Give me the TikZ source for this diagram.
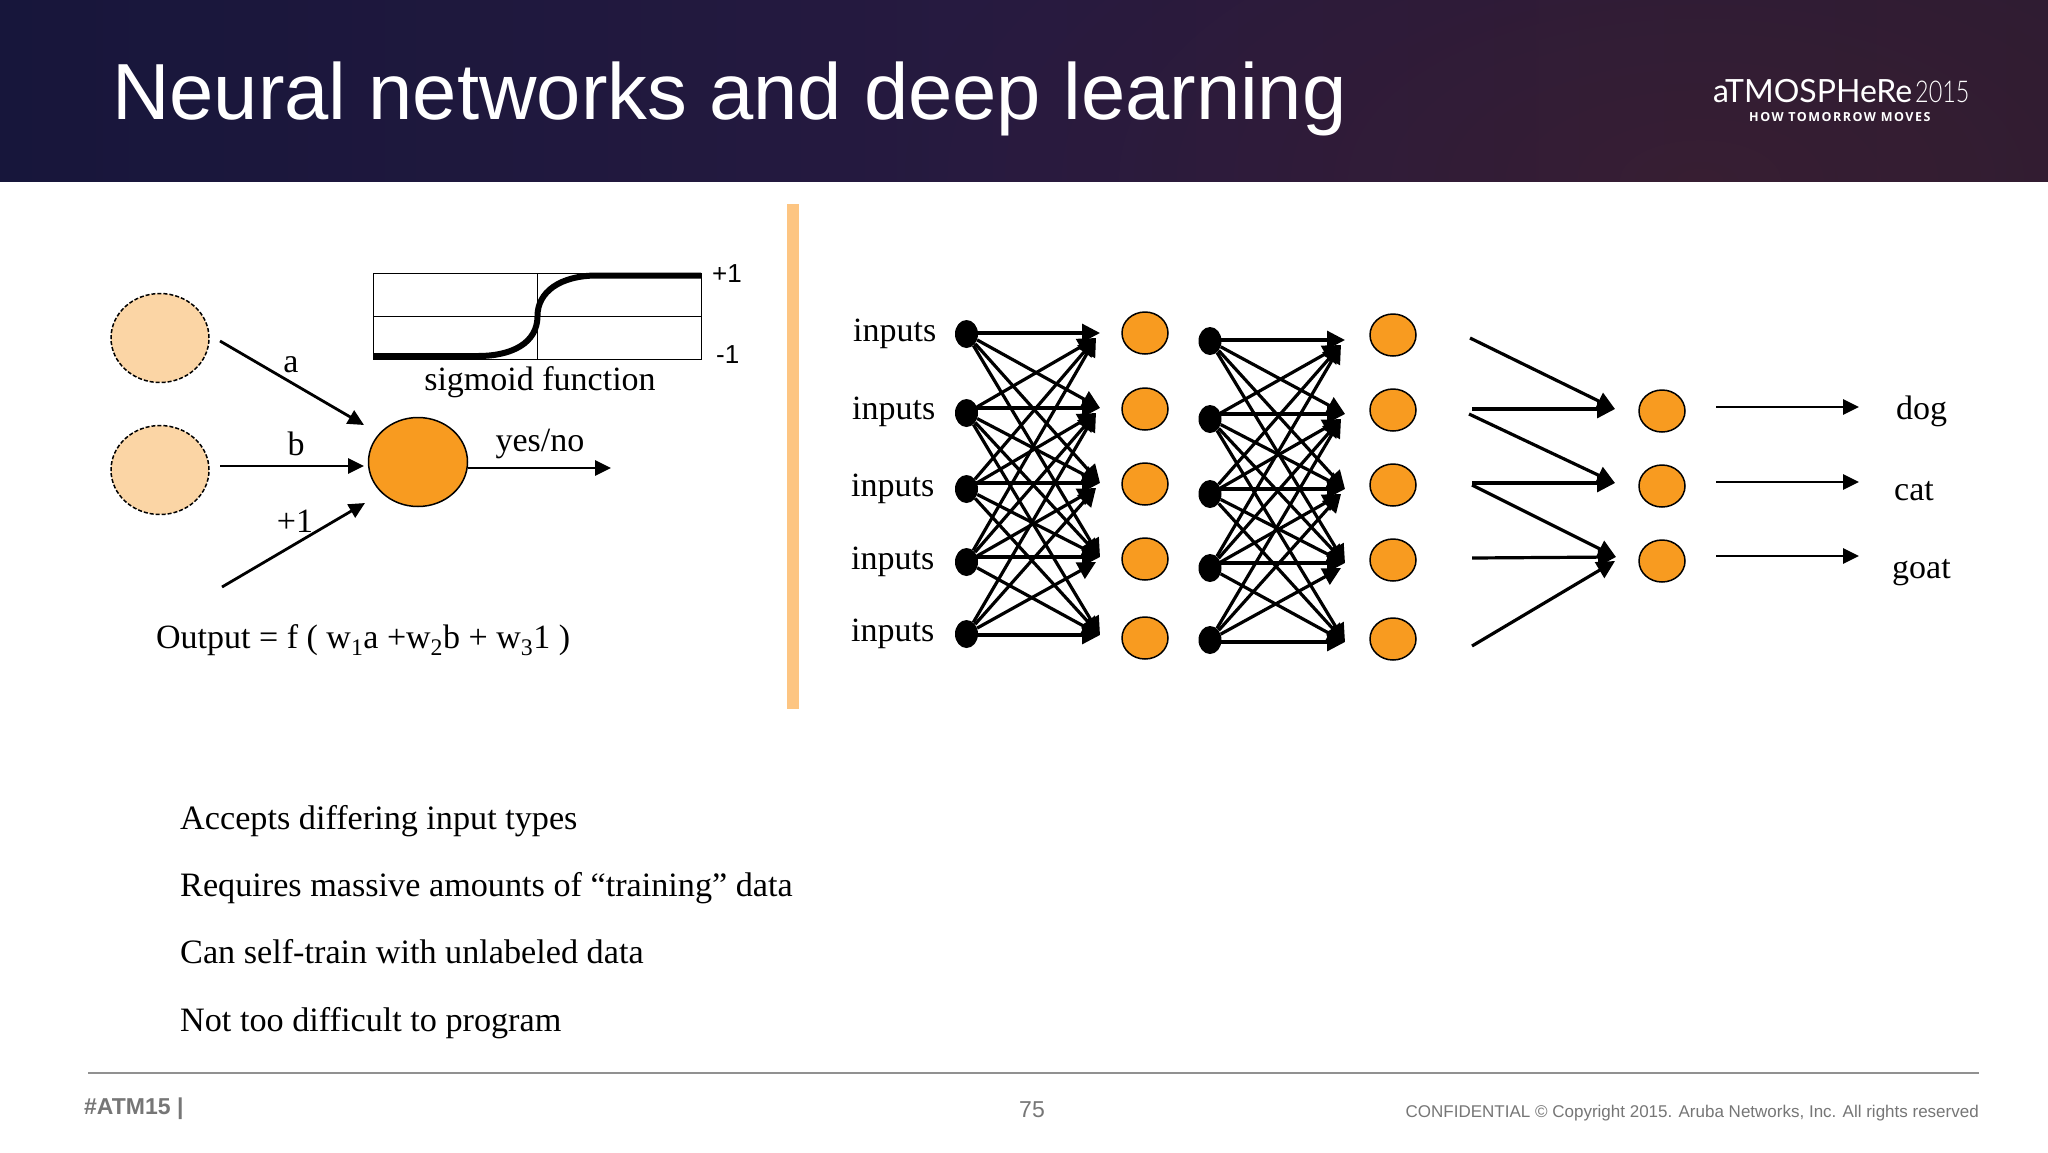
\documentclass[tikz,border=0pt]{standalone}
\usepackage{fontspec}
\setmainfont{Liberation Serif}
\setsansfont{Liberation Sans}
\newfontfamily\logofont{Lato}
\newfontfamily\yearfont[FakeStretch=0.78]{Lato Light}
\newfontfamily\logosub[LetterSpace=12]{Open Sans}
\usetikzlibrary{arrows.meta,shapes.geometric,fadings}

\definecolor{bannerleft}{HTML}{17163B}
\definecolor{bannermid}{HTML}{271A40}
\definecolor{bannerright}{HTML}{2A1B34}
\definecolor{bannerglow}{HTML}{6A2A20}
\definecolor{neuronorange}{HTML}{F89B20}
\definecolor{inputpeach}{HTML}{FBD5A5}
\definecolor{barorange}{HTML}{FDC582}
\definecolor{footgray}{HTML}{767676}

\newcommand{\fs}[1]{\fontsize{#1}{#1}\selectfont}
\tikzfading[name=glowfade, inner color=transparent!78, outer color=transparent!100]

\tikzset{
  neuron/.style={ellipse, draw, fill=neuronorange, line width=1.5pt, inner sep=0pt, minimum width=46pt, minimum height=42pt},
  inputcell/.style={ellipse, draw, dashed, dash pattern=on 4pt off 2pt, fill=inputpeach, line width=1.5pt, inner sep=0pt, minimum width=98pt, minimum height=89pt},
  dot/.style={ellipse, fill=black, inner sep=0pt, minimum width=23pt, minimum height=28pt},
  link/.style={-{Triangle[length=16pt,width=15pt]}, line width=2.8pt},
  netlink/.style={-{Triangle[length=18pt,width=18pt]}, line width=3.2pt},
  label/.style={anchor=base, inner sep=0pt, font=\fs{34}},
  labelw/.style={anchor=base west, inner sep=0pt, font=\fs{34}},
  bullet/.style={anchor=base west, inner sep=0pt, font=\fs{34.2}}
}

\begin{document}
\begin{tikzpicture}[x=1pt,y=-1pt]
    \useasboundingbox (0,0) rectangle (2048,1152);
    \fill[white] (0,0) rectangle (2048,1152);

    % Banner
    \shade[left color=bannerleft, right color=bannerright, middle color=bannermid] (0,0) rectangle (2048,181);
    \begin{scope}
        \clip (0,0) rectangle (2048,181);
        \fill[bannerglow, path fading=glowfade] (900,-220) rectangle (2500,580);
    \end{scope}
    \node[anchor=base west, inner sep=0pt, text=white, font=\sffamily\fs{79.6}] (title) at (112,119) {Neural networks and deep learning};
    \node[anchor=base west, inner sep=0pt, text=white, font=\logofont\fs{32}] (logo) at (1713,102) {aTMOSPHeRe};
    \node[anchor=base west, inner sep=0pt, text=white, font=\yearfont\fs{30}] (year) at (1915,102) {2015};
    \node[anchor=base west, inner sep=0pt, text=white, font=\logosub\bfseries\fs{12.5}] (motto) at (1749,121) {HOW TOMORROW MOVES};

    % Single neuron
    \node[inputcell] (src1) at (160,338) {};
    \node[inputcell] (src2) at (160,470) {};
    \node[neuron, minimum width=99pt, minimum height=89pt] (cell) at (418,462) {};
    \coordinate (a0) at (220,341);
    \coordinate (a1) at (364,425);
    \coordinate (b0) at (220,466);
    \coordinate (b1) at (364,466);
    \coordinate (c0) at (222,587);
    \coordinate (c1) at (365,503);
    \coordinate (outp) at (611,468);
    \draw[link] (a0) -- (a1);
    \draw[link] (b0) -- (b1);
    \draw[link] (c0) -- (c1);
    \draw[link] (cell.east |- outp) -- (outp);
    \node[label] (la) at (291,372) {a};
    \node[label] (lb) at (296,455) {b};
    \node[label] (lc) at (295,532) {+1};
    \node[label] (lyes) at (540,451) {yes/no};

    % Sigmoid plot
    \draw[line width=1pt] (373,273) rectangle (701,359);
    \draw[line width=1pt] (537.5,273) -- (537.5,359);
    \draw[line width=1pt] (373,316) -- (701,316);
    \draw[line width=6pt] (373,356) -- (478,356) .. controls (512,356) and (537.5,343) .. (537.5,316) .. controls (537.5,292) and (560,275.5) .. (597,275.5) -- (701,275.5);
    \node[anchor=base west, inner sep=0pt, font=\sffamily\fs{26}] (plus) at (712,282) {+1};
    \node[anchor=base west, inner sep=0pt, font=\sffamily\fs{26}] (minus) at (716,363) {-1};
    \node[label] (lsig) at (540,390) {sigmoid function};

    \node[labelw] (formula) at (156,648) {Output = f ( w\textsubscript{1}a +w\textsubscript{2}b + w\textsubscript{3}1 )};

    % Divider
    \fill[barorange] (787,204) rectangle (799,709);

    % First layer
    \foreach \i/\dy/\ty/\ny/\ly/\lx in {1/334/333/333/341/853, 2/413/408/409/419/852, 3/489/483/484/496/851, 4/562/557/559/569/851, 5/634/635/638/641/851} {
        \node[labelw] (inp\i) at (\lx,\ly) {inputs};
        \node[dot] (da\i) at (966.5,\dy) {};
        \coordinate (ta\i) at (1100,\ty);
        \coordinate (ua\i) at ([shift={(-4,5)}]ta\i);
        \node[neuron] (na\i) at (1145,\ny) {};
    }
    \foreach \i/\ups/\downs in {1/{}/{2,3,4}, 2/{1}/{3,4,5}, 3/{1,2}/{4,5}, 4/{1,2,3}/{5}, 5/{2,3,4}/{}} {
        \draw[netlink] (da\i.center |- ta\i) -- (ta\i);
        \foreach \j in \ups { \draw[netlink] (da\i) -- (ua\j); }
        \foreach \j in \downs { \draw[netlink] (da\i) -- (ta\j); }
    }

    % Second layer
    \foreach \i/\dy/\ty/\ny in {1/341/340/335, 2/419/414/410, 3/494/489/485, 4/568/563/560, 5/640/642/639} {
        \node[dot] (db\i) at (1210,\dy) {};
        \coordinate (tb\i) at (1345,\ty);
        \coordinate (ub\i) at ([shift={(-4,5)}]tb\i);
        \node[neuron] (nb\i) at (1393,\ny) {};
    }
    \foreach \i/\ups/\downs in {1/{}/{2,3,4}, 2/{1}/{3,4,5}, 3/{1,2}/{4,5}, 4/{1,2,3}/{5}, 5/{2,3,4}/{}} {
        \draw[netlink] (db\i.center |- tb\i) -- (tb\i);
        \foreach \j in \ups { \draw[netlink] (db\i) -- (ub\j); }
        \foreach \j in \downs { \draw[netlink] (db\i) -- (tb\j); }
    }

    % Output layer
    \foreach \i/\ny/\ay/\name/\lx/\ly in {1/411/407/dog/1896/419, 2/486/482/cat/1894/500, 3/561/556/goat/1892/578} {
        \node[neuron] (nc\i) at (1662,\ny) {};
        \coordinate (oa\i) at (1716,\ay);
        \coordinate (ob\i) at (1859,\ay);
        \draw[link] (oa\i) -- (ob\i);
        \node[labelw] (name\i) at (\lx,\ly) {\name};
    }
    \coordinate (f1) at (1470,338);
    \coordinate (f2) at (1472,409);
    \coordinate (f3) at (1469,414);
    \coordinate (f4) at (1472,483);
    \coordinate (f5) at (1472,485);
    \coordinate (f6) at (1472,558);
    \coordinate (f7) at (1472,646);
    \coordinate (g1) at (1615,409);
    \coordinate (g2) at (1615,483);
    \coordinate (g3) at (1616,557);
    \coordinate (g4) at (1615,561);
    \draw[netlink] (f1) -- (g1);
    \draw[netlink] (f2) -- (g1);
    \draw[netlink] (f3) -- (g2);
    \draw[netlink] (f4) -- (g2);
    \draw[netlink] (f5) -- (g3);
    \draw[netlink] (f6) -- (g3);
    \draw[netlink] (f7) -- (g4);

    % Notes
    \node[bullet] (n1) at (180,829) {Accepts differing input types};
    \node[bullet] (n2) at (180,896) {Requires massive amounts of “training” data};
    \node[bullet] (n3) at (180,963) {Can self-train with unlabeled data};
    \node[bullet] (n4) at (180,1031) {Not too difficult to program};

    % Footer
    \draw[footgray!80, line width=2pt] (88,1073) -- (1979,1073);
    \node[anchor=base west, inner sep=0pt, text=footgray, font=\sffamily\bfseries\fs{23}] (tag) at (84,1114) {\#ATM15 |};
    \node[anchor=base, inner sep=0pt, text=footgray, font=\sffamily\fs{23}] (page) at (1032,1117) {75};
    \node[anchor=base east, inner sep=0pt, text=footgray, font=\sffamily\fs{17}] (conf) at (1979,1117) {CONFIDENTIAL © Copyright 2015. Aruba Networks, Inc. All rights reserved};
\end{tikzpicture}
\end{document}
